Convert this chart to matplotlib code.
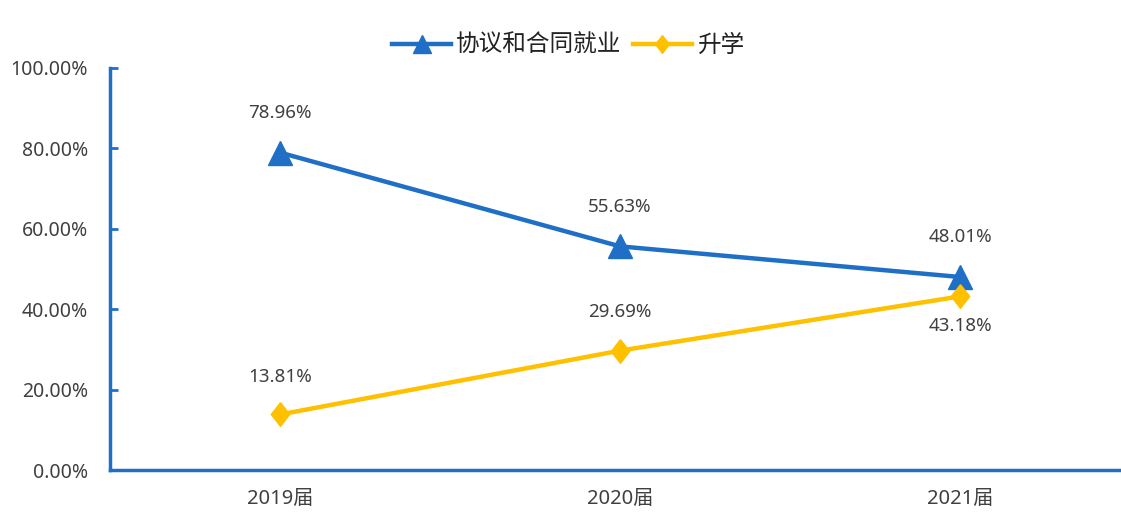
import matplotlib
matplotlib.use("Agg")
import matplotlib.pyplot as plt
from matplotlib.ticker import FuncFormatter

plt.rcParams['font.family'] = ['Noto Sans', 'Noto Sans CJK SC', 'DejaVu Sans']

categories = ["2019届", "2020届", "2021届"]
employ = [78.96, 55.63, 48.01]
study = [13.81, 29.69, 43.18]
yticks = [0, 20, 40, 60, 80, 100]

blue = "#1F6FC6"
gold = "#FFC000"
tc = "#404040"
W, H = 1121, 512
fig = plt.figure(figsize=(W / 100, H / 100), dpi=100)
ax = fig.add_axes([110 / W, 42 / H, 1020 / W, 402 / H])

diamond = [(0, 1), (0.78, 0), (0, -1), (-0.78, 0), (0, 1)]
x = list(range(len(categories)))
ax.plot(x, employ, color=blue, lw=3.2, marker="^", ms=17, label="协议和合同就业", zorder=3)
ax.plot(x, study, color=gold, lw=3.2, marker=diamond, ms=17, label="升学", zorder=3)

ax.set_xlim(-0.5, 2.5)
ax.set_ylim(0, 100)
ax.set_yticks(yticks)
ax.yaxis.set_major_formatter(FuncFormatter(lambda v, p: f"{v:.2f}%"))
ax.set_xticks(x)
ax.set_xticklabels(categories)
ax.tick_params(axis="y", direction="in", length=6, width=2, color=blue, labelsize=14, labelcolor=tc, pad=16)
ax.tick_params(axis="x", length=0, labelsize=14.5, labelcolor=tc, pad=14)

for s in ["top", "right"]:
    ax.spines[s].set_visible(False)
for s in ["left", "bottom"]:
    ax.spines[s].set_color(blue)
    ax.spines[s].set_linewidth(2.5)

for i, v in enumerate(employ):
    ax.annotate(f"{v:.2f}%", (i, v), xytext=(0, 28.5), textcoords="offset points",
                ha="center", va="center", fontsize=13.5, color=tc)
offsets = [27, 27.5, -21]
for i, v in enumerate(study):
    ax.annotate(f"{v:.2f}%", (i, v), xytext=(0, offsets[i]), textcoords="offset points",
                ha="center", va="center", fontsize=13.5, color=tc)

fig.legend(loc="center", bbox_to_anchor=(568 / W, 1 - 46 / H), ncol=2, frameon=False,
           fontsize=17, handlelength=2.5, columnspacing=0.5, handletextpad=0.2,
           markerscale=0.75, labelcolor="#222222")

fig.savefig("out.png", dpi=100)
